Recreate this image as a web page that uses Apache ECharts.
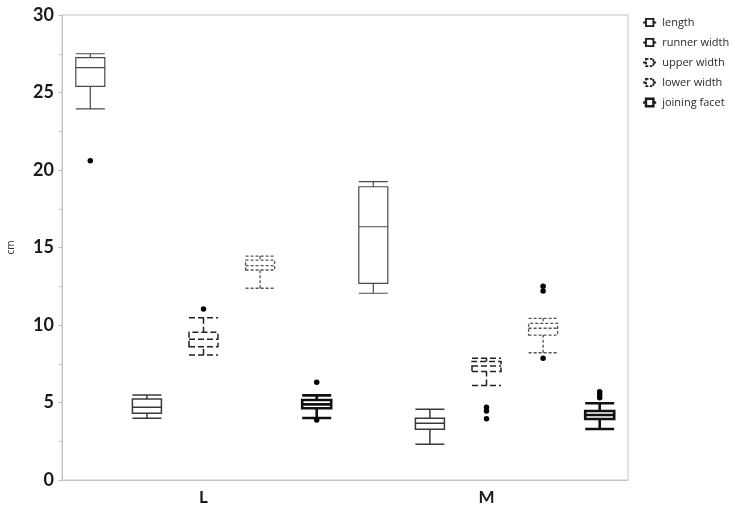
<!DOCTYPE html>
<html>
<head>
<meta charset="utf-8">
<script src="https://cdn.jsdelivr.net/npm/echarts@6/dist/echarts.min.js"></script>
<style>html,body{margin:0;padding:0;background:#fff;}#c{width:735px;height:508px;}</style>
</head>
<body>
<div id="c"></div>
<script>
// ---- data ----
var categories = ['L', 'M'];
var seriesNames = ['length', 'runner width', 'upper width', 'lower width', 'joining facet'];
var yTicks = [0, 5, 10, 15, 20, 25, 30];
// [min, Q1, median, Q3, max] for L, M
var lengthBox  = [[23.95, 25.4, 26.6, 27.25, 27.5], [12.05, 12.69, 16.34, 18.92, 19.25]];
var runnerBox  = [[3.98, 4.3, 4.69, 5.23, 5.48], [2.3, 3.27, 3.66, 3.98, 4.56]];
var upperBox   = [[8.06, 8.6, 9.08, 9.53, 10.47], [6.1, 7.0, 7.35, 7.65, 7.85]];
var lowerBox   = [[12.37, 13.55, 13.83, 14.19, 14.45], [8.21, 9.35, 9.79, 10.1, 10.43]];
var joiningBox = [[4.0, 4.63, 4.88, 5.16, 5.46], [3.29, 3.94, 4.19, 4.45, 4.95]];
// outliers for L, M
var lengthOut  = [[20.6], []];
var runnerOut  = [[], []];
var upperOut   = [[11.03], [4.7, 4.45, 3.95]];
var lowerOut   = [[], [12.5, 12.2, 7.85]];
var joiningOut = [[6.3, 3.87], [5.7, 5.5, 5.3]];

var boxes = [lengthBox, runnerBox, upperBox, lowerBox, joiningBox];
var outs = [lengthOut, runnerOut, upperOut, lowerOut, joiningOut];

var styles = [
  {borderColor: '#4a4a4a', borderWidth: 1.2, borderType: 'solid'},
  {borderColor: '#3a3a3a', borderWidth: 1.5, borderType: 'solid'},
  {borderColor: '#222', borderWidth: 1.5, borderType: [6, 3]},
  {borderColor: '#555', borderWidth: 1.3, borderType: [3, 2]},
  {borderColor: '#111', borderWidth: 2.6, borderType: 'solid'}
];

var nS = seriesNames.length;
var nSlots = categories.length * nS;

var xAxes = [{
  type: 'category', data: categories, gridIndex: 0, boundaryGap: true,
  axisLine: {lineStyle: {color: '#c4c4c4'}},
  axisTick: {show: false},
  axisLabel: {fontFamily: 'Lato', fontWeight: 'bold', fontSize: 17, color: '#1a1a1a', margin: 9}
}];
for (var i = 0; i < nS; i++) {
  xAxes.push({type: 'value', min: 0, max: nSlots, show: false, gridIndex: 0});
}

var series = [];
var outData = [];
for (var s = 0; s < nS; s++) {
  var data = [];
  for (var g = 0; g < categories.length; g++) {
    var pos = g * nS + s + 0.5;
    data.push([pos].concat(boxes[s][g]));
    outs[s][g].forEach(function (v) { outData.push([pos, v]); });
  }
  series.push({
    name: seriesNames[s],
    type: 'boxplot',
    xAxisIndex: s + 1,
    yAxisIndex: 0,
    boxWidth: [29, 29],
    data: data,
    itemStyle: Object.assign({color: '#fff'}, styles[s]),
    emphasis: {disabled: true},
    silent: true
  });
}
series.push({
  name: 'outliers',
  type: 'scatter',
  xAxisIndex: 1,
  yAxisIndex: 0,
  symbol: 'circle',
  symbolSize: 5.5,
  itemStyle: {color: '#000', opacity: 1},
  data: outData,
  silent: true
});

var iconPath = 'path://M0,5H3M3,1H11V9H3ZM11,5H14';
var legendData = seriesNames.map(function (n, k) {
  return {
    name: n,
    icon: iconPath,
    itemStyle: {color: '#fff', borderColor: '#1a1a1a', borderWidth: k === 4 ? 2.4 : 1.8, borderType: styles[k].borderType === 'solid' ? 'solid' : [2.5, 1.5]}
  };
});

var chart = echarts.init(document.getElementById('c'), null, {renderer: 'canvas'});
chart.setOption({
  animation: false,
  backgroundColor: '#fff',
  grid: {left: 62, right: 107, top: 15, bottom: 28, show: true, borderColor: '#c4c4c4', borderWidth: 1, backgroundColor: 'transparent', containLabel: false, outerBoundsMode: 'none'},
  legend: {
    orient: 'vertical', left: 637, top: 12,
    itemWidth: 13, itemHeight: 10, itemGap: 9,
    data: legendData,
    textStyle: {fontFamily: 'Open Sans', fontSize: 11, color: '#2a2a2a', padding: [0, 0, 0, 1]}
  },
  xAxis: xAxes,
  yAxis: [{
    type: 'value', min: yTicks[0], max: yTicks[yTicks.length - 1], interval: 5,
    name: 'cm', nameLocation: 'middle', nameGap: 46, nameMoveOverlap: false,
    nameTextStyle: {fontFamily: 'Open Sans', fontSize: 10, color: '#333'},
    axisLine: {show: true, lineStyle: {color: '#c4c4c4'}},
    axisTick: {show: true, length: 4, lineStyle: {color: '#c4c4c4'}},
    minorTick: {show: true, splitNumber: 2, length: 3, lineStyle: {color: '#c4c4c4'}},
    splitLine: {show: false},
    axisLabel: {fontFamily: 'Lato', fontWeight: 'bold', fontSize: 18, color: '#1a1a1a', margin: 8}
  }],
  series: series
});
</script>
</body>
</html>
